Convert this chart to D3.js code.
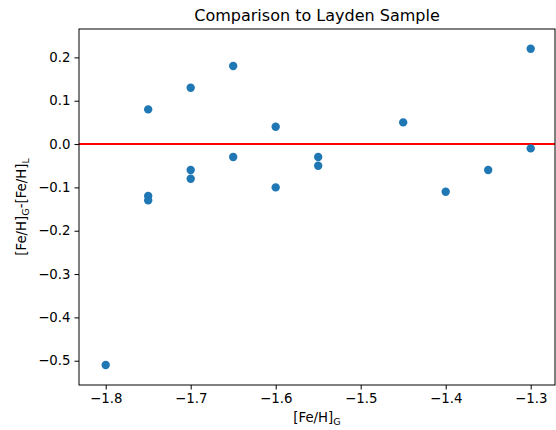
<!DOCTYPE html>
<html>
<head>
<meta charset="utf-8">
<script src="https://cdn.jsdelivr.net/npm/d3@7"></script>
<style>
  body { margin: 0; background: #fff; }
  svg { display: block; font-family: "DejaVu Sans", sans-serif; }
</style>
</head>
<body>
<div id="chart"></div>
<script>
// data
const feG = [-1.8, -1.75, -1.75, -1.75, -1.7, -1.7, -1.7, -1.65, -1.65,
             -1.6, -1.6, -1.55, -1.55, -1.45, -1.4, -1.35, -1.3, -1.3];
const diff = [-0.51, 0.08, -0.12, -0.13, 0.13, -0.06, -0.08, 0.18, -0.03,
              0.04, -0.10, -0.03, -0.05, 0.05, -0.11, -0.06, 0.22, -0.01];
const xTicks = [-1.8, -1.7, -1.6, -1.5, -1.4, -1.3];
const yTicks = [-0.5, -0.4, -0.3, -0.2, -0.1, 0.0, 0.1, 0.2];

const width = 556;
const height = 430;
const plotL = 79, plotR = 555, plotT = 29, plotB = 385;

const svg = d3.select("#chart")
  .append("svg")
  .attr("width", width)
  .attr("height", height);

const x = d3.scaleLinear().domain([-1.8314, -1.2714]).range([plotL, plotR]);
const y = d3.scaleLinear().domain([-0.556, 0.2655]).range([plotB, plotT]);

const minus = d => d3.format(".1f")(d).replace("-", "\u2212");

// axes
const xAxis = svg.append("g")
  .attr("transform", `translate(0,${plotB})`)
  .call(d3.axisBottom(x).tickValues(xTicks).tickFormat(minus).tickSize(4.5).tickPadding(4));
const yAxis = svg.append("g")
  .attr("transform", `translate(${plotL},0)`)
  .call(d3.axisLeft(y).tickValues(yTicks).tickFormat(minus).tickSize(4.5).tickPadding(4));

[xAxis, yAxis].forEach(g => {
  g.select(".domain").remove();
  g.selectAll("text")
    .attr("fill", "#000")
    .style("font-family", "DejaVu Sans")
    .style("font-size", "13.3px");
  g.selectAll("line").attr("stroke", "#000").attr("stroke-width", 1);
});

// zero line
svg.append("line")
  .attr("x1", plotL).attr("x2", plotR)
  .attr("y1", y(0)).attr("y2", y(0))
  .attr("stroke", "#ff0000")
  .attr("stroke-width", 2);

// points
svg.append("g")
  .selectAll("circle")
  .data(feG)
  .join("circle")
  .attr("cx", d => x(d))
  .attr("cy", (d, i) => y(diff[i]))
  .attr("r", 4.2)
  .attr("fill", "#1f77b4");

// frame
svg.append("rect")
  .attr("x", plotL).attr("y", plotT)
  .attr("width", plotR - plotL).attr("height", plotB - plotT)
  .attr("fill", "none")
  .attr("stroke", "#000")
  .attr("stroke-width", 1);

// title
svg.append("text")
  .attr("x", (plotL + plotR) / 2)
  .attr("y", 21)
  .attr("text-anchor", "middle")
  .style("font-size", "16px")
  .text("Comparison to Layden Sample");

// x label
const xl = svg.append("text")
  .attr("x", (plotL + plotR) / 2)
  .attr("y", 422)
  .attr("text-anchor", "middle")
  .style("font-size", "13.3px");
xl.append("tspan").text("[Fe/H]");
xl.append("tspan").attr("dy", 3).style("font-size", "9.5px").text("G");

// y label
const yl = svg.append("text")
  .attr("transform", `translate(26,${(plotT + plotB) / 2}) rotate(-90)`)
  .attr("text-anchor", "middle")
  .style("font-size", "13.3px");
yl.append("tspan").text("[Fe/H]");
yl.append("tspan").attr("dy", 3).style("font-size", "9.5px").text("G");
yl.append("tspan").attr("dy", -3).text("-[Fe/H]");
yl.append("tspan").attr("dy", 3).style("font-size", "9.5px").text("L");
</script>
</body>
</html>
